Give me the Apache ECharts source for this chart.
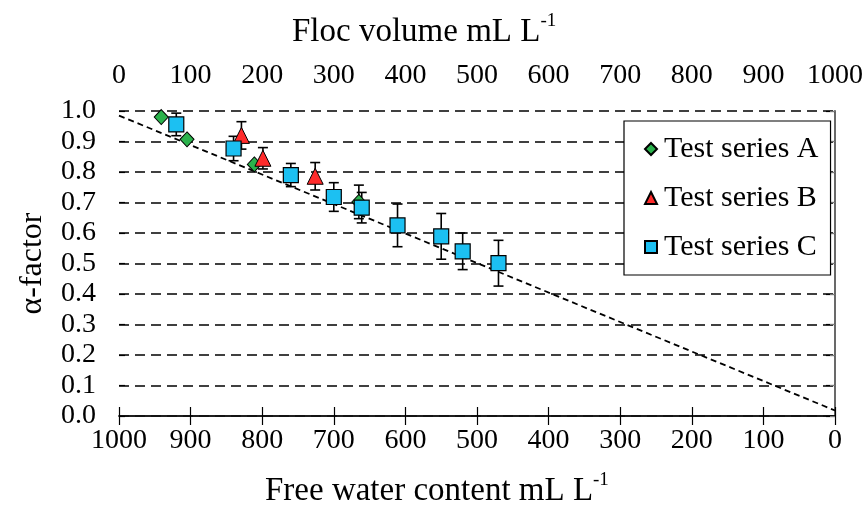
<!DOCTYPE html>
<html>
<head>
<meta charset="utf-8">
<script src="https://cdn.jsdelivr.net/npm/echarts@6/dist/echarts.min.js"></script>
<style>html,body{margin:0;padding:0;background:#fff}#c{width:866px;height:522px}</style>
</head>
<body>
<div id="c"></div>
<script>
// Free water content (mL/L) and alpha-factor values
const fwcA = [941, 905, 811, 665];
const alphaA = [0.98, 0.907, 0.825, 0.702];
const errA = [0, 0, 0, 0.055];

const fwcB = [829, 799, 726];
const alphaB = [0.92, 0.845, 0.786];
const errB = [0.045, 0.035, 0.045];

const fwcC = [920, 840, 760, 700, 661, 611, 550, 520, 470];
const alphaC = [0.956, 0.877, 0.79, 0.718, 0.683, 0.625, 0.589, 0.54, 0.501];
const errC = [0.037, 0.04, 0.038, 0.047, 0.05, 0.07, 0.075, 0.06, 0.075];

const trendFwc = [1000, 0];
const trendAlpha = [0.985, 0.018];

const yTicks = [0.0, 0.1, 0.2, 0.3, 0.4, 0.5, 0.6, 0.7, 0.8, 0.9, 1.0];
const seriesNames = ['Test series A', 'Test series B', 'Test series C'];
const topTitle = 'Floc volume mL L';
const bottomTitle = 'Free water content mL L';
const unitSup = '-1';

const FONT = '"Liberation Serif", "Times New Roman", serif';

function pts(xs, ys) { return xs.map((x, i) => [x, ys[i]]); }
function errPts(xs, ys, es) { return xs.map((x, i) => [x, ys[i], es[i]]); }

function errRender(params, api) {
  const x = api.value(0), y = api.value(1), e = api.value(2);
  if (!e) return null;
  const top = api.coord([x, y + e]);
  const bot = api.coord([x, y - e]);
  const w = 5;
  const st = { stroke: '#000', lineWidth: 1.6 };
  return {
    type: 'group',
    children: [
      { type: 'line', shape: { x1: top[0], y1: top[1], x2: bot[0], y2: bot[1] }, style: st },
      { type: 'line', shape: { x1: top[0] - w, y1: top[1], x2: top[0] + w, y2: top[1] }, style: st },
      { type: 'line', shape: { x1: bot[0] - w, y1: bot[1], x2: bot[0] + w, y2: bot[1] }, style: st }
    ]
  };
}

const chart = echarts.init(document.getElementById('c'), null, { renderer: 'canvas' });

const titleRich = {
  a: { fontSize: 33, fontFamily: FONT, color: '#000', lineHeight: 40 },
  s: { fontSize: 19, fontFamily: FONT, color: '#000', verticalAlign: 'top', lineHeight: 40, padding: [0, 0, 16, 0] }
};

chart.setOption({
  animation: false,
  backgroundColor: '#fff',
  grid: { left: 119, right: 30, top: 111, bottom: 106 },
  graphic: [
    { type: 'text', left: 292, top: 12,
      style: { text: '{a|' + topTitle + '}{s|' + unitSup + '}', rich: titleRich } },
    { type: 'text', left: 265, top: 471,
      style: { text: '{a|' + bottomTitle + '}{s|' + unitSup + '}', rich: titleRich } }
  ],
  legend: {
    orient: 'vertical',
    left: 624, top: 121,
    data: seriesNames,
    backgroundColor: '#fff',
    borderColor: '#000', borderWidth: 1.2,
    padding: [13, 12, 13, 20],
    itemGap: 19,
    itemWidth: 12, itemHeight: 12,
    textStyle: { fontSize: 30, fontFamily: FONT, color: '#000', padding: [0, 0, 0, 2] }
  },
  xAxis: [
    {
      type: 'value', position: 'bottom', min: 0, max: 1000, interval: 100, inverse: true,
      axisLine: { show: true, lineStyle: { color: '#555', width: 1.5 } },
      axisTick: { show: true, inside: false, length: 9, lineStyle: { color: '#000', width: 1.2 } },
      axisLabel: { fontSize: 28, fontFamily: FONT, color: '#000', margin: 11, formatter: v => String(Math.round(v)) },
      splitLine: { show: false }
    },
    {
      type: 'value', position: 'top', min: 0, max: 1000, interval: 100,
      axisLine: { show: true, lineStyle: { color: '#000', width: 1.5 } },
      axisTick: { show: true, inside: false, length: 9, lineStyle: { color: '#000', width: 1.2 } },
      axisLabel: { fontSize: 28, fontFamily: FONT, color: '#000', margin: 21, formatter: v => String(Math.round(v)) },
      splitLine: { show: false }
    }
  ],
  yAxis: [
    {
      type: 'value', min: 0, max: 1, interval: 0.1, position: 'left',
      axisLine: { show: true, lineStyle: { color: '#000', width: 1.5 } },
      axisTick: { show: true, inside: false, length: 9, lineStyle: { color: '#000', width: 1.2 } },
      axisLabel: { fontSize: 28, fontFamily: FONT, color: '#000', margin: 23,
        formatter: v => yTicks.reduce((b, t) => Math.abs(t - v) < Math.abs(b - v) ? t : b).toFixed(1) },
      splitLine: { show: true, lineStyle: { color: '#000', width: 1.5, type: [10, 6] } },
      name: 'α-factor', nameLocation: 'middle', nameGap: 70,
      nameTextStyle: { fontSize: 32, fontFamily: FONT, color: '#000' }
    },
    {
      type: 'value', min: 0, max: 1, interval: 0.1, position: 'left',
      axisLine: { show: false },
      axisTick: { show: true, inside: true, length: 6, lineStyle: { color: '#000', width: 1.2 } },
      axisLabel: { show: false }, splitLine: { show: false }
    },
    {
      type: 'value', min: 0, max: 1, interval: 0.1, position: 'right',
      axisLine: { show: true, lineStyle: { color: '#777', width: 1.5 } },
      axisTick: { show: true, inside: true, length: 5, lineStyle: { color: '#777', width: 1 } },
      axisLabel: { show: false }, splitLine: { show: false }
    }
  ],
  series: [
    {
      type: 'line', name: 'trend', data: pts(trendFwc, trendAlpha),
      xAxisIndex: 0, yAxisIndex: 0, symbol: 'none', silent: true, z: 2,
      lineStyle: { color: '#000', width: 1.8, type: [6, 4] }
    },
    { type: 'custom', name: 'errA', xAxisIndex: 0, yAxisIndex: 0, data: errPts(fwcA, alphaA, errA), renderItem: errRender, z: 3 },
    { type: 'custom', name: 'errB', xAxisIndex: 0, yAxisIndex: 0, data: errPts(fwcB, alphaB, errB), renderItem: errRender, z: 3 },
    { type: 'custom', name: 'errC', xAxisIndex: 0, yAxisIndex: 0, data: errPts(fwcC, alphaC, errC), renderItem: errRender, z: 3 },
    {
      type: 'scatter', name: seriesNames[0], data: pts(fwcA, alphaA), xAxisIndex: 0, yAxisIndex: 0,
      symbol: 'diamond', symbolSize: [14, 15], z: 5,
      itemStyle: { color: '#2bb24c', borderColor: '#000', borderWidth: 1, opacity: 1 }
    },
    {
      type: 'scatter', name: seriesNames[1], data: pts(fwcB, alphaB), xAxisIndex: 0, yAxisIndex: 0,
      symbol: 'triangle', symbolSize: [16, 16], z: 5,
      itemStyle: { color: '#ff2b2b', borderColor: '#000', borderWidth: 1, opacity: 1 }
    },
    {
      type: 'scatter', name: seriesNames[2], data: pts(fwcC, alphaC), xAxisIndex: 0, yAxisIndex: 0,
      symbol: 'rect', symbolSize: [15, 15], z: 5,
      itemStyle: { color: '#1cc0f2', borderColor: '#000', borderWidth: 1.2, opacity: 1 }
    }
  ]
});
</script>
</body>
</html>
